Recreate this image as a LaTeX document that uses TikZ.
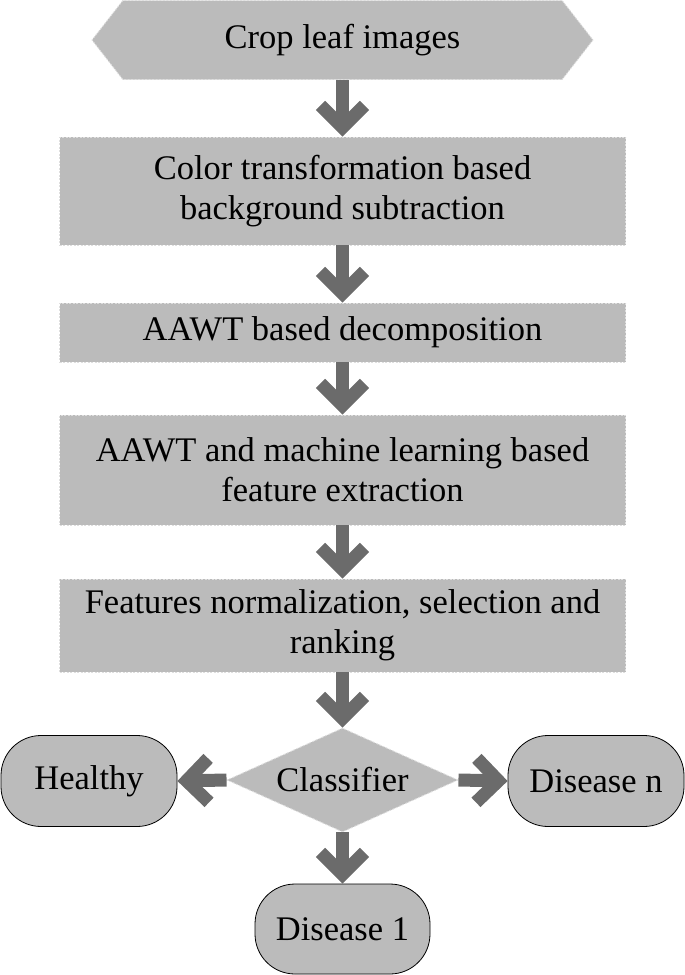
\documentclass[tikz,border=0pt]{standalone}
\usepackage{fontspec}
\setmainfont{Liberation Serif}
\usetikzlibrary{shapes.geometric,shapes.symbols,shapes.misc,arrows.meta}
\definecolor{boxfill}{RGB}{187,187,187}
\definecolor{boxedge}{RGB}{222,222,222}
\definecolor{arrowgray}{RGB}{107,107,107}
\tikzset{
  procbox/.style={rectangle, fill=boxfill, draw=boxedge, line width=0.9pt,
    dash pattern=on 2pt off 1.5pt, minimum width=566pt, align=center,
    inner sep=0pt, font=\fontsize{34.5}{40}\selectfont},
  startbox/.style={signal, signal to=west and east, signal pointer angle=104,
    fill=boxfill, draw=boxedge, line width=0.9pt, dash pattern=on 2pt off 1.5pt,
    minimum width=501pt, minimum height=79pt, inner sep=0pt,
    font=\fontsize{34.5}{40}\selectfont},
  decbox/.style={diamond, fill=boxfill, draw=boxedge, line width=0.9pt,
    dash pattern=on 2pt off 1.5pt, aspect=2.22, minimum width=231pt,
    minimum height=104pt, inner sep=0pt, font=\fontsize{34.5}{40}\selectfont},
  termbox/.style={rectangle, rounded corners=40pt, fill=boxfill, draw=black,
    line width=0.8pt, minimum width=176pt, minimum height=91pt, inner sep=0pt,
    font=\fontsize{34.5}{40}\selectfont},
  flow/.style={draw=arrowgray, line width=13pt,
    -{Straight Barb[length=22pt,width=44pt]}}
}
\begin{document}
\begin{tikzpicture}[x=1pt,y=-1pt]
\useasboundingbox (0,0) rectangle (685,975);
\node[startbox] (crop) at (342.5,40) {\raisebox{-3pt}{Crop leaf images}};
\node[procbox, minimum height=108pt] (color) at (342.5,191) {Color transformation based\\background subtraction};
\node[procbox, minimum height=59pt] (aawt) at (342.5,332.5) {AAWT based decomposition};
\node[procbox, minimum height=110pt] (feat) at (342.5,470) {AAWT and machine learning based\\feature extraction};
\node[procbox, minimum height=93pt] (norm) at (342.5,625.5) {Features normalization, selection and\\ranking};
\node[decbox] (clf) at (342.5,780) {Classifier};
\node[termbox] (healthy) at (89,781) {\raisebox{-2pt}{Healthy}};
\node[termbox] (disn) at (596,781) {Disease n};
\node[termbox, minimum width=175pt, minimum height=90pt] (dis1) at (342.5,929) {Disease 1};
\draw[flow] (crop.south) -- (color.north);
\draw[flow] (color.south) -- (aawt.north);
\draw[flow] (aawt.south) -- (feat.north);
\draw[flow] (feat.south) -- (norm.north);
\draw[flow] (norm.south) -- (clf.north);
\draw[flow] (clf.west) -- (healthy.east);
\draw[flow] (clf.east) -- (disn.west);
\draw[flow] (clf.south) -- (dis1.north);
\end{tikzpicture}
\end{document}
